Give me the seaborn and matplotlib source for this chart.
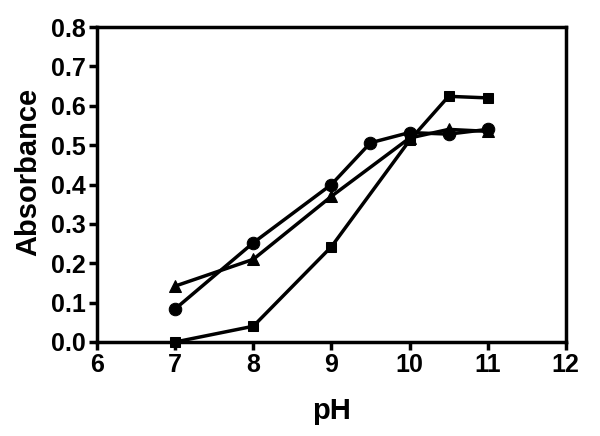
import matplotlib
matplotlib.use("Agg")
import matplotlib.pyplot as plt
import seaborn as sns
import pandas as pd

sns.set_theme(style="ticks")
plt.rcParams['font.family'] = ['Liberation Sans', 'DejaVu Sans']
plt.rcParams['text.color'] = 'black'
plt.rcParams['axes.labelcolor'] = 'black'
plt.rcParams['xtick.color'] = 'black'
plt.rcParams['ytick.color'] = 'black'

ph_circle = [7, 8, 9, 9.5, 10, 10.5, 11]
abs_circle = [0.084, 0.252, 0.400, 0.506, 0.532, 0.528, 0.540]

ph_triangle = [7, 8, 9, 10, 10.5, 11]
abs_triangle = [0.142, 0.210, 0.370, 0.518, 0.540, 0.535]

ph_square = [7, 8, 9, 10, 10.5, 11]
abs_square = [0.0, 0.040, 0.242, 0.512, 0.624, 0.620]

xticks = [6, 7, 8, 9, 10, 11, 12]
yticks = [0.0, 0.1, 0.2, 0.3, 0.4, 0.5, 0.6, 0.7, 0.8]

fig = plt.figure(figsize=(6.0, 4.36), dpi=100)
ax = fig.add_axes([0.1617, 0.2156, 0.943 - 0.1617, 0.938 - 0.2156])

series = [
    (ph_circle, abs_circle, 'o', 9),
    (ph_triangle, abs_triangle, '^', 8),
    (ph_square, abs_square, 's', 7),
]
for xs, ys, mk, ms in series:
    df = pd.DataFrame({'pH': xs, 'Absorbance': ys})
    sns.lineplot(data=df, x='pH', y='Absorbance', ax=ax, color='black',
                 marker=mk, markersize=ms, linewidth=2.5, markeredgecolor='black',
                 clip_on=False, zorder=3)

ax.set_xlim(6, 12)
ax.set_ylim(0, 0.8)
ax.set_xticks(xticks)
ax.set_xticklabels([str(t) for t in xticks])
ax.set_yticks(yticks)
ax.set_yticklabels([f"{t:.1f}" for t in yticks])
for s in ax.spines.values():
    s.set_linewidth(2.5)
    s.set_color('black')
ax.tick_params(axis='both', direction='out', length=6, width=2.5, color='black',
               labelcolor='black', labelsize=18, pad=2)
ax.tick_params(top=False, right=False)
for lab in ax.get_xticklabels() + ax.get_yticklabels():
    lab.set_fontweight('bold')
ax.set_xlabel('pH', fontsize=21, fontweight='bold', color='black')
ax.set_ylabel('Absorbance', fontsize=21, fontweight='bold', color='black')
ax.xaxis.set_label_coords(0.5, -0.175)
ax.yaxis.set_label_coords(-0.117, 0.54)

fig.savefig('out.png', dpi=100, facecolor='white')
